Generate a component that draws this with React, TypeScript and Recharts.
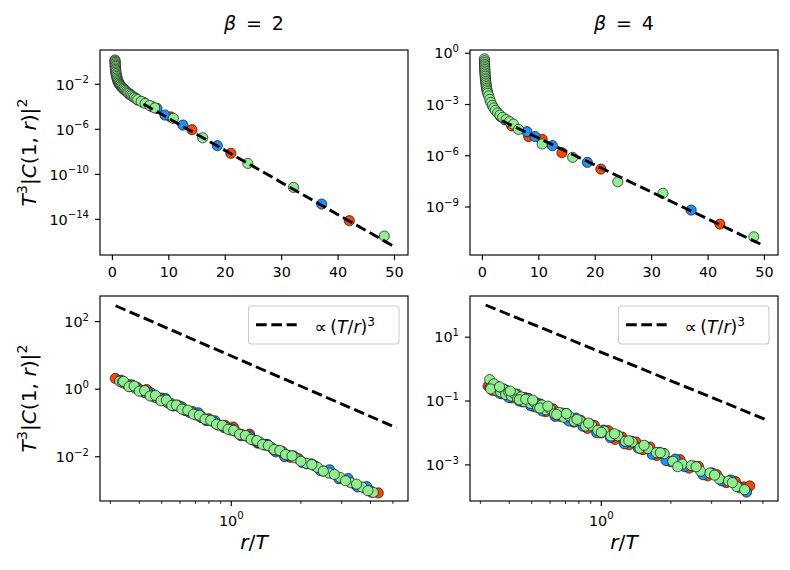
import React from 'react';
import { ScatterChart, Scatter, XAxis, YAxis } from 'recharts';

const FONT = "'DejaVu Sans', 'Liberation Sans', sans-serif";
const RED = '#FF4500';
const BLUE = '#1E90FF';
const GREEN = '#90EE90';

// ---------- tick values ----------
const topXTicks = [0, 10, 20, 30, 40, 50];
const tlYTicks = [1e-2, 1e-6, 1e-10, 1e-14];
const trYTicks = [1, 1e-3, 1e-6, 1e-9];
const blYTicks = [1e2, 1, 1e-2];
const brYTicks = [10, 0.1, 1e-3];
const botXTicks = [0.3, 0.4, 0.5, 0.6, 0.7, 0.8, 0.9, 1, 2, 3, 4, 5];

// ---------- top-left (beta = 2), x = r ----------
const tlRed = [[4.5, 4.0e-4], [7.0, 1.05e-4], [10.3, 1.26e-5], [14.1, 9.3e-7], [21.0, 7.4e-9], [42.0, 7.6e-15]];
const tlBlue = [[3.0, 1.41e-3], [5.5, 2.5e-4], [7.9, 7.4e-5], [9.3, 1.86e-5], [12.5, 2.4e-6], [18.6, 3.5e-8], [37.1, 2.3e-13]];
const tlGreen = [
  [0.45, 1.45], [0.46, 1.15], [0.47, 0.89], [0.48, 0.67], [0.5, 0.5], [0.51, 0.38], [0.53, 0.28], [0.55, 0.21],
  [0.58, 0.16], [0.61, 0.12], [0.65, 0.089], [0.7, 0.067], [0.75, 0.05], [0.81, 0.037], [0.88, 0.028], [0.96, 0.021],
  [1.05, 0.0166], [1.15, 0.013], [1.25, 0.0105], [1.37, 0.0087], [1.5, 0.0071], [1.65, 0.0058], [1.8, 0.0048],
  [1.95, 0.0041], [2.1, 0.0034], [2.3, 0.0028], [2.5, 0.00224], [2.7, 0.0018], [2.9, 0.0015], [3.15, 0.00122],
  [3.4, 0.001], [3.65, 8.1e-4], [3.9, 6.6e-4], [4.2, 5.4e-4], [4.5, 4.4e-4], [5.1, 3.0e-4], [5.8, 2.0e-4],
  [6.6, 1.32e-4], [7.5, 7.9e-5], [10.8, 9.5e-6], [16.0, 1.78e-7], [24.0, 9.5e-10], [32.1, 6.9e-12], [48.2, 3.3e-16],
];
const tlFit = [[5.5, 1.78e-4], [50, 3.7e-17]];

// ---------- top-right (beta = 4), x = r ----------
const trRed = [[3.2, 2.0e-4], [5.2, 5.6e-5], [8.2, 1.32e-5], [10.6, 9.1e-6], [14.1, 1.51e-6], [21.0, 1.66e-7], [42.1, 1.0e-10]];
const trBlue = [[2.5, 4.0e-4], [4.0, 1.26e-4], [7.9, 2.57e-5], [9.35, 1.32e-5], [12.4, 3.9e-6], [18.6, 4.1e-7], [37.0, 6.6e-10]];
const trGreen = [
  [0.36, 0.47], [0.37, 0.36], [0.38, 0.28], [0.39, 0.22], [0.40, 0.178], [0.41, 0.14], [0.42, 0.112], [0.44, 0.089],
  [0.45, 0.071], [0.47, 0.056], [0.5, 0.045], [0.52, 0.035], [0.55, 0.028], [0.58, 0.022], [0.62, 0.0178],
  [0.66, 0.014], [0.7, 0.0112], [0.75, 0.0089], [0.8, 0.0071], [0.87, 0.0056], [0.95, 0.0045], [1.1, 0.0032],
  [1.3, 0.002], [1.5, 0.00132], [1.75, 8.9e-4], [2.0, 6.3e-4], [2.3, 4.5e-4], [2.7, 3.2e-4], [3.1, 2.4e-4],
  [3.6, 1.78e-4], [4.2, 1.32e-4], [4.8, 1.0e-4], [5.5, 7.1e-5], [6.4, 3.5e-5], [10.6, 4.9e-6], [16.0, 8.1e-7],
  [24.0, 3.0e-8], [32.0, 6.3e-9], [48.1, 1.8e-11],
];
const trFit = [[3.5, 1.12e-4], [50, 5.2e-12]];

// ---------- bottom-left (beta = 2), x = r/T ----------
const blRed = [
  [0.315, 2.08], [0.34, 1.58], [0.37, 1.35], [0.40, 0.97], [0.43, 0.975], [0.465, 0.585], [0.50, 0.545],
  [0.54, 0.374], [0.585, 0.34], [0.63, 0.236], [0.68, 0.217], [0.74, 0.145], [0.80, 0.133], [0.87, 0.0895],
  [0.94, 0.0858], [1.02, 0.076], [1.11, 0.0453], [1.20, 0.0467], [1.30, 0.0254], [1.41, 0.0232], [1.53, 0.0156],
  [1.66, 0.0142], [1.80, 0.0096], [1.95, 0.0088], [2.12, 0.0062], [2.30, 0.00535], [2.50, 0.00377],
  [2.72, 0.00324], [2.95, 0.0023], [3.20, 0.00199], [3.47, 0.00141], [3.76, 0.00122], [4.05, 0.00089], [4.32, 0.00085],
];
const blBlue = [
  [0.333, 1.85], [0.36, 1.26], [0.39, 1.15], [0.42, 0.80], [0.45, 0.78], [0.48, 0.56], [0.52, 0.53], [0.56, 0.32],
  [0.61, 0.30], [0.66, 0.205], [0.72, 0.20], [0.78, 0.118], [0.85, 0.116], [0.93, 0.073], [1.01, 0.066],
  [1.10, 0.042], [1.20, 0.041], [1.31, 0.0262], [1.43, 0.0233], [1.56, 0.0139], [1.70, 0.0101], [1.86, 0.0106],
  [2.03, 0.0067], [2.22, 0.0062], [2.43, 0.0039], [2.66, 0.0041], [2.92, 0.00224], [3.20, 0.00227],
  [3.52, 0.00128], [3.85, 0.0013], [4.0, 0.00097],
];
const blGreen = [
  [0.329, 1.72], [0.338, 1.62], [0.347, 1.47], [0.356, 1.39], [0.366, 1.25], [0.375, 1.19], [0.385, 1.07],
  [0.395, 1.02], [0.406, 0.91], [0.417, 0.87], [0.428, 0.78], [0.440, 0.74], [0.452, 0.66], [0.464, 0.63],
  [0.477, 0.56], [0.490, 0.535], [0.503, 0.48], [0.517, 0.455], [0.531, 0.405], [0.546, 0.386], [0.562, 0.345],
  [0.595, 0.30], [0.630, 0.243], [0.667, 0.213], [0.706, 0.172], [0.748, 0.151], [0.792, 0.122], [0.839, 0.107],
  [0.888, 0.086], [0.940, 0.0762], [0.996, 0.0615], [1.055, 0.054], [1.117, 0.0436], [1.183, 0.0381],
  [1.253, 0.0308], [1.327, 0.0271], [1.405, 0.0218], [1.488, 0.0192], [1.576, 0.0155], [1.669, 0.0136],
  [1.768, 0.0110], [1.89, 0.0093], [2.11, 0.0064], [2.36, 0.00485], [2.64, 0.0033], [2.95, 0.00247],
  [3.29, 0.0017], [3.68, 0.00127], [4.11, 0.00088],
];
const blGreenMore = [
  [0.342, 1.7], [0.361, 1.19], [0.380, 1.24], [0.400, 0.872], [0.422, 0.908], [0.446, 0.629], [0.470, 0.657],
  [0.497, 0.454], [0.524, 0.474], [0.553, 0.33], [0.578, 0.337], [0.612, 0.257], [0.648, 0.239], [0.686, 0.182],
  [0.727, 0.169], [0.770, 0.129], [0.815, 0.120], [0.863, 0.0917], [0.914, 0.0853], [0.968, 0.065],
  [1.025, 0.0605], [1.086, 0.046], [1.150, 0.0428], [1.218, 0.0326], [1.290, 0.0303], [1.366, 0.0231],
  [1.446, 0.0215], [1.531, 0.0164], [1.622, 0.0153], [1.717, 0.0116], [1.83, 0.0106], [2.00, 0.00736],
  [2.23, 0.00587], [2.50, 0.00377], [2.79, 0.0030], [3.12, 0.00194], [3.48, 0.00155], [3.90, 0.00099],
];
const blFit = [[0.316, 296], [5.18, 0.072]];

// ---------- bottom-right (beta = 4), x = r/T ----------
const brRed = [
  [0.324, 0.296], [0.339, 0.215], [0.355, 0.285], [0.372, 0.169], [0.389, 0.213], [0.407, 0.126], [0.432, 0.165],
  [0.457, 0.0946], [0.484, 0.121], [0.513, 0.0662], [0.543, 0.081], [0.575, 0.0463], [0.617, 0.0574],
  [0.661, 0.0333], [0.708, 0.0403], [0.759, 0.0218], [0.813, 0.0252], [0.871, 0.0139], [0.933, 0.0173],
  [1.0, 0.0100], [1.072, 0.0118], [1.148, 0.00625], [1.230, 0.0074], [1.318, 0.00429], [1.413, 0.00519],
  [1.514, 0.00301], [1.622, 0.00364], [1.738, 0.00197], [1.862, 0.00228], [1.995, 0.00126], [2.188, 0.00146],
  [2.399, 0.00079], [2.630, 0.000895], [2.884, 0.000453], [3.162, 0.00049], [3.467, 0.000278], [3.802, 0.0003],
  [4.121, 0.000204], [4.385, 0.000219],
];
const brBlue = [
  [0.331, 0.258], [0.347, 0.319], [0.363, 0.176], [0.380, 0.233], [0.398, 0.129], [0.417, 0.167], [0.442, 0.100],
  [0.468, 0.128], [0.495, 0.0715], [0.525, 0.0875], [0.556, 0.049], [0.589, 0.0612], [0.631, 0.0331],
  [0.676, 0.042], [0.724, 0.0238], [0.776, 0.0294], [0.832, 0.0163], [0.891, 0.0193], [0.955, 0.0102],
  [1.023, 0.0123], [1.096, 0.00714], [1.175, 0.00845], [1.259, 0.00457], [1.349, 0.00553], [1.445, 0.00336],
  [1.549, 0.00379], [1.660, 0.00215], [1.778, 0.00248], [1.905, 0.00137], [2.089, 0.00152], [2.291, 0.000883],
  [2.512, 0.000912], [2.754, 0.000494], [3.020, 0.00056], [3.311, 0.000318], [3.631, 0.000336], [3.981, 0.00019],
  [4.246, 0.000141],
];
const brGreen = [
  [0.329, 0.47], [0.335, 0.28], [0.343, 0.347], [0.351, 0.219], [0.359, 0.257], [0.367, 0.191], [0.376, 0.241],
  [0.386, 0.161], [0.398, 0.19], [0.409, 0.143], [0.422, 0.166], [0.435, 0.1175], [0.449, 0.1346], [0.463, 0.0953],
  [0.479, 0.117], [0.495, 0.084], [0.513, 0.0914], [0.532, 0.0624], [0.553, 0.075], [0.575, 0.0532], [0.600, 0.058],
  [0.627, 0.0397], [0.656, 0.0438], [0.689, 0.0309], [0.724, 0.0344], [0.764, 0.0234], [0.807, 0.0245],
  [0.855, 0.0165], [0.908, 0.0171], [0.966, 0.0121], [1.03, 0.01153], [1.10, 0.0081], [1.18, 0.00815],
  [1.27, 0.0055], [1.36, 0.00523], [1.47, 0.00333], [1.59, 0.00327], [1.73, 0.00242], [1.87, 0.00223],
  [2.04, 0.00129], [2.24, 0.00106], [2.45, 0.000953], [2.69, 0.000635], [2.95, 0.000558], [3.24, 0.000364],
  [3.55, 0.000313], [3.85, 0.00021], [4.17, 0.000167],
];
const brGreenMore = [
  [0.332, 0.239], [0.363, 0.279], [0.404, 0.206], [0.442, 0.1096], [0.471, 0.114], [0.505, 0.107], [0.542, 0.0604],
  [0.587, 0.069], [0.641, 0.038], [0.706, 0.0405], [0.785, 0.0266], [0.881, 0.0204], [1.0, 0.0105], [1.14, 0.00944],
  [1.315, 0.00569], [1.531, 0.0041], [1.80, 0.0024], [2.14, 0.000877], [2.57, 0.000873], [3.09, 0.000478],
  [3.69, 0.000279],
];
const brFit = [[0.316, 102], [5.18, 0.0257]];

const pts = (a: number[][]) => a.map(([x, y]) => ({ x, y }));

const PW = 308;
const PH = 205;
const TICK_FS = 14.4;
const SUP_FS = 10.1;

function supText(v: number) {
  const e = Math.round(Math.log10(v));
  return e < 0 ? '\u2212' + String(-e) : String(e);
}

const dot = (fill: string) => (p: any) => (
  <circle cx={p.cx} cy={p.cy} r={5.1} fill={fill} stroke="#111" strokeWidth={0.7} />
);
const noDot = () => <g />;

function XLinTick(p: any) {
  const { x, payload, axisY } = p;
  return (
    <g>
      <line x1={x} x2={x} y1={axisY} y2={axisY + 5} stroke="#000" strokeWidth={1.15} />
      <text x={x} y={axisY + 22.2} textAnchor="middle" fontFamily={FONT} fontSize={TICK_FS} fill="#000">
        {payload.value}
      </text>
    </g>
  );
}

function XLogTick(p: any) {
  const { x, payload, axisY } = p;
  const major = Math.abs(Math.log10(payload.value) - Math.round(Math.log10(payload.value))) < 1e-9;
  return (
    <g>
      <line x1={x} x2={x} y1={axisY} y2={axisY + (major ? 5 : 2.9)} stroke="#000" strokeWidth={major ? 1.15 : 0.87} />
      {major ? (
        <text x={x} y={axisY + 24.5} textAnchor="middle" fontFamily={FONT} fontSize={TICK_FS} fill="#000">
          10<tspan dy={-6.2} fontSize={SUP_FS}>{supText(payload.value)}</tspan>
        </text>
      ) : null}
    </g>
  );
}

function YLogTick(p: any) {
  const { y, payload, axisX } = p;
  return (
    <g>
      <line x1={axisX} x2={axisX - 5} y1={y} y2={y} stroke="#000" strokeWidth={1.15} />
      <text x={axisX - 11} y={y + 5.2} textAnchor="end" fontFamily={FONT} fontSize={TICK_FS} fill="#000">
        10<tspan dy={-6.2} fontSize={SUP_FS}>{supText(payload.value)}</tspan>
      </text>
    </g>
  );
}

function Panel(props: any) {
  const { left, top, yAxisW, marginTop, xAxisH, xLog, xDomain, xTicks, yDomain, yTicks, red, blue, green, fit } = props;
  const W = yAxisW + PW + 12;
  const H = marginTop + PH + xAxisH;
  const axisY = marginTop + PH;
  const axisX = yAxisW;
  return (
    <div style={{ position: 'absolute', left, top, width: W, height: H }}>
      <ScatterChart width={W} height={H} margin={{ top: marginTop, right: 12, bottom: 0, left: 0 }}>
        <XAxis
          type="number"
          dataKey="x"
          scale={xLog ? 'log' : 'linear'}
          domain={xDomain}
          allowDataOverflow
          ticks={xTicks}
          interval={0}
          height={xAxisH}
          axisLine={false}
          tickLine={false}
          tickSize={0}
          tickMargin={0}
          tick={(tp: any) => (xLog ? <XLogTick {...tp} axisY={axisY} /> : <XLinTick {...tp} axisY={axisY} />)}
        />
        <YAxis
          type="number"
          dataKey="y"
          scale="log"
          domain={yDomain}
          allowDataOverflow
          ticks={yTicks}
          interval={0}
          width={yAxisW}
          axisLine={false}
          tickLine={false}
          tickSize={0}
          tickMargin={0}
          tick={(tp: any) => <YLogTick {...tp} axisX={axisX} />}
        />
        <Scatter data={pts(red)} shape={dot(RED)} isAnimationActive={false} />
        <Scatter data={pts(blue)} shape={dot(BLUE)} isAnimationActive={false} />
        <Scatter data={pts(green)} shape={dot(GREEN)} isAnimationActive={false} />
        <Scatter
          data={pts(fit)}
          shape={noDot}
          line={{ stroke: '#000', strokeWidth: 2.9, strokeDasharray: '10.7 4.6' }}
          isAnimationActive={false}
        />
      </ScatterChart>
    </div>
  );
}

function LegendBox({ x, y }: { x: number; y: number }) {
  return (
    <g>
      <rect x={x} y={y} width={150.5} height={38} rx={3} ry={3} fill="#fff" fillOpacity={0.8} stroke="#cccccc" strokeWidth={1.1} />
      <line x1={x + 7.5} x2={x + 48.2} y1={y + 18.8} y2={y + 18.8} stroke="#000" strokeWidth={2.9} strokeDasharray="10.7 4.6" />
      <text x={x + 66} y={y + 27.2} fontFamily={FONT} fontSize={17.3} fill="#000">
        {'\u221D\u2009('}
        <tspan fontStyle="italic">T</tspan>
        {'/'}
        <tspan fontStyle="italic">r</tspan>
        {')'}
        <tspan dy={-7.5} fontSize={12.1}>3</tspan>
      </text>
    </g>
  );
}

function YLabel({ cy }: { cy: number }) {
  return (
    <text
      x={35.5}
      y={cy}
      transform={`rotate(-90, 35.5, ${cy})`}
      textAnchor="middle"
      fontFamily={FONT}
      fontSize={20.2}
      fill="#000"
    >
      <tspan fontStyle="italic">T</tspan>
      <tspan dy={-8.5} fontSize={14.1}>3</tspan>
      <tspan dy={8.5}>|</tspan>
      <tspan fontStyle="italic">C</tspan>
      <tspan>(1, </tspan>
      <tspan fontStyle="italic">r</tspan>
      <tspan>)|</tspan>
      <tspan dy={-8.5} fontSize={14.1}>2</tspan>
    </text>
  );
}

function XLabel({ cx }: { cx: number }) {
  return (
    <text x={cx} y={549} textAnchor="middle" fontFamily={FONT} fontSize={20.2} fill="#000">
      <tspan fontStyle="italic">r</tspan>
      {'/'}
      <tspan fontStyle="italic">T</tspan>
    </text>
  );
}

function Title({ cx, label }: { cx: number; label: string }) {
  return (
    <text x={cx} y={30} textAnchor="middle" fontFamily={FONT} fontSize={19} fill="#000">
      <tspan fontStyle="italic">{'\u03B2'}</tspan>
      {'\u00A0\u2009=\u00A0\u2009' + label}
    </text>
  );
}

export default function App() {
  const topX = [-2.2, 52.4];
  const botX = [0.2705, 5.81];
  return (
    <div style={{ position: 'absolute', left: 0, top: 0, width: 790, height: 570, background: '#fff' }}>
      <Panel left={0} top={0} yAxisW={100} marginTop={50} xAxisH={30} xLog={false} xDomain={topX} xTicks={topXTicks}
        yDomain={[6.8e-18, 11.2]} yTicks={tlYTicks} red={tlRed} blue={tlBlue} green={tlGreen} fit={tlFit} />
      <Panel left={400} top={0} yAxisW={70} marginTop={50} xAxisH={30} xLog={false} xDomain={topX} xTicks={topXTicks}
        yDomain={[1.55e-12, 1.55]} yTicks={trYTicks} red={trRed} blue={trBlue} green={trGreen} fit={trFit} />
      <Panel left={0} top={285} yAxisW={100} marginTop={11} xAxisH={69} xLog={true} xDomain={botX} xTicks={botXTicks}
        yDomain={[4.9e-4, 575]} yTicks={blYTicks} red={blRed} blue={blBlue} green={[...blGreen, ...blGreenMore]} fit={blFit} />
      <Panel left={400} top={285} yAxisW={70} marginTop={11} xAxisH={69} xLog={true} xDomain={botX} xTicks={botXTicks}
        yDomain={[7.4e-5, 195]} yTicks={brYTicks} red={brRed} blue={brBlue} green={[...brGreen, ...brGreenMore]} fit={brFit} />
      <svg width={790} height={570} style={{ position: 'absolute', left: 0, top: 0, pointerEvents: 'none' }}>
        <rect x={100} y={50} width={PW} height={PH} fill="none" stroke="#000" strokeWidth={1.15} />
        <rect x={470} y={50} width={PW} height={PH} fill="none" stroke="#000" strokeWidth={1.15} />
        <rect x={100} y={296} width={PW} height={PH} fill="none" stroke="#000" strokeWidth={1.15} />
        <rect x={470} y={296} width={PW} height={PH} fill="none" stroke="#000" strokeWidth={1.15} />
        <Title cx={254} label="2" />
        <Title cx={624} label="4" />
        <YLabel cy={152.5} />
        <YLabel cy={398.5} />
        <XLabel cx={254} />
        <XLabel cx={624} />
        <LegendBox x={248.5} y={306} />
        <LegendBox x={618.5} y={306} />
      </svg>
    </div>
  );
}
